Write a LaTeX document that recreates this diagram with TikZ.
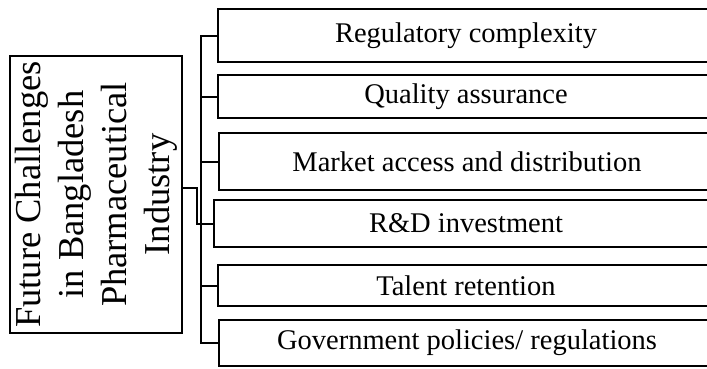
\documentclass[tikz,border=0pt]{standalone}
\usepackage{fontspec}
\setmainfont{Liberation Serif}
\usepackage{tikz}

\tikzset{
    itembox/.style={draw, line width=2pt, anchor=west, minimum width=496pt, inner sep=2pt,
        font=\fontsize{28.5}{34}\selectfont},
    link/.style={line width=2pt}
}

\begin{document}
\begin{tikzpicture}[x=1pt, y=-1pt]
    \useasboundingbox (0,0) rectangle (707,368);
    \clip (0,0) rectangle (707,368);

    % main box (rotated, so its south side faces right)
    \node[draw, line width=2pt, rotate=90, minimum width=277pt, minimum height=172pt, inner sep=2pt,
        align=center, font=\fontsize{36.5}{43}\selectfont] (root) at (96,194.5)
        {Future Challenges\\in Bangladesh\\Pharmaceutical\\Industry};

    % challenges
    \node[itembox, minimum height=53pt] (regul) at (217,35.5) {Regulatory complexity};
    \node[itembox, minimum height=43pt] (quality) at (217,96.5) {Quality assurance};
    \node[itembox, minimum height=57pt] (market) at (218,161.5) {Market access and distribution};
    \node[itembox, minimum height=47pt, minimum width=504pt] (rnd) at (213,223.5) {R\&D investment};
    \node[itembox, minimum height=41pt] (talent) at (217,285.5) {Talent retention};
    \node[itembox, minimum height=46pt] (govt) at (218,343) {Government policies/ regulations};

    % connectors
    \coordinate (bus) at (201,188);
    \coordinate (elbow) at (197,188);
    \draw[link] (root.south |- elbow) -- (elbow) |- (rnd.west);
    \draw[link] (bus) |- (regul.west);
    \draw[link] (bus) |- (quality.west);
    \draw[link] (bus) |- (market.west);
    \draw[link] (bus) |- (rnd.west);
    \draw[link] (bus) |- (talent.west);
    \draw[link] (bus) |- (govt.west);
\end{tikzpicture}
\end{document}
